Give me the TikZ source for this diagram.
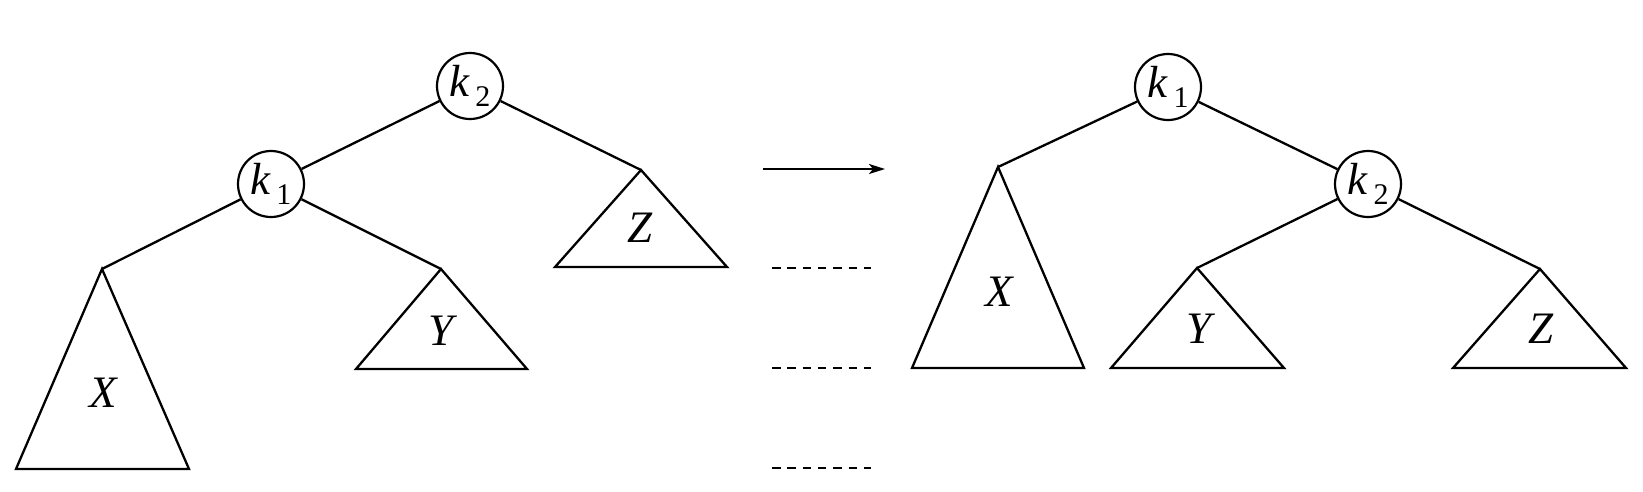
\documentclass[tikz,border=0pt]{standalone}
\usepackage{fontspec}
\setmainfont{Liberation Serif}
\usetikzlibrary{arrows.meta}
\newcommand{\keyk}[1]{{\itshape k}\hspace{6pt}\raisebox{-10pt}{\fontsize{30}{36}\selectfont #1}}
\begin{document}
\begin{tikzpicture}[x=1pt,y=-1pt,line width=2.3pt,
  keynode/.style={circle,draw,line width=2.2pt,minimum size=66pt,inner sep=0pt,font=\fontsize{45}{52}\selectfont},
  treelbl/.style={inner sep=0pt,font=\fontsize{45}{52}\selectfont\itshape},
  tri/.style={line width=2.3pt,line join=miter},
  lvl/.style={line width=2.3pt,dash pattern=on 8.5pt off 6.8pt}]
\useasboundingbox (0,0) rectangle (1643,491);
% ---- left tree ----
\node[keynode] (Lk2) at (470,86) {\keyk{2}};
\node[keynode] (Lk1) at (271,184) {\keyk{1}};
\coordinate (LZa) at (641,170);
\coordinate (LXa) at (102,269);
\coordinate (LYa) at (441,269);
\draw (Lk2) -- (Lk1);
\draw (Lk2) -- (LZa);
\draw (Lk1) -- (LXa);
\draw (Lk1) -- (LYa);
\draw[tri] (LZa) -- (555,267) -- (727,267) -- cycle;
\draw[tri] (LXa) -- (16,469) -- (189,469) -- cycle;
\draw[tri] (LYa) -- (356,369) -- (527,369) -- cycle;
\node[treelbl] (LZ) at (640,228) {Z};
\node[treelbl] (LY) at (441,331) {Y};
\node[treelbl] (LX) at (103,393) {X};
% ---- arrow and level marks ----
\coordinate (As) at (763,169);
\coordinate (Ae) at (885,169);
\draw[-{Stealth[length=16pt,width=10pt,inset=4pt]}] (As) -- (Ae);
\coordinate (D1a) at (772,268); \coordinate (D1b) at (871,268);
\coordinate (D2a) at (772,368); \coordinate (D2b) at (871,368);
\coordinate (D3a) at (772,468); \coordinate (D3b) at (871,468);
\draw[lvl] (D1a) -- (D1b);
\draw[lvl] (D2a) -- (D2b);
\draw[lvl] (D3a) -- (D3b);
% ---- right tree ----
\node[keynode] (Rk1) at (1168,87) {\keyk{1}};
\node[keynode] (Rk2) at (1368,184) {\keyk{2}};
\coordinate (RXa) at (998,167);
\coordinate (RYa) at (1197,268);
\coordinate (RZa) at (1540,269);
\draw (Rk1) -- (RXa);
\draw (Rk1) -- (Rk2);
\draw (Rk2) -- (RYa);
\draw (Rk2) -- (RZa);
\draw[tri] (RXa) -- (912,368) -- (1084,368) -- cycle;
\draw[tri] (RYa) -- (1111,368) -- (1284,368) -- cycle;
\draw[tri] (RZa) -- (1453,368) -- (1626,368) -- cycle;
\node[treelbl] (RX) at (999,292) {X};
\node[treelbl] (RY) at (1199,329) {Y};
\node[treelbl] (RZ) at (1541,329) {Z};
\end{tikzpicture}
\end{document}
